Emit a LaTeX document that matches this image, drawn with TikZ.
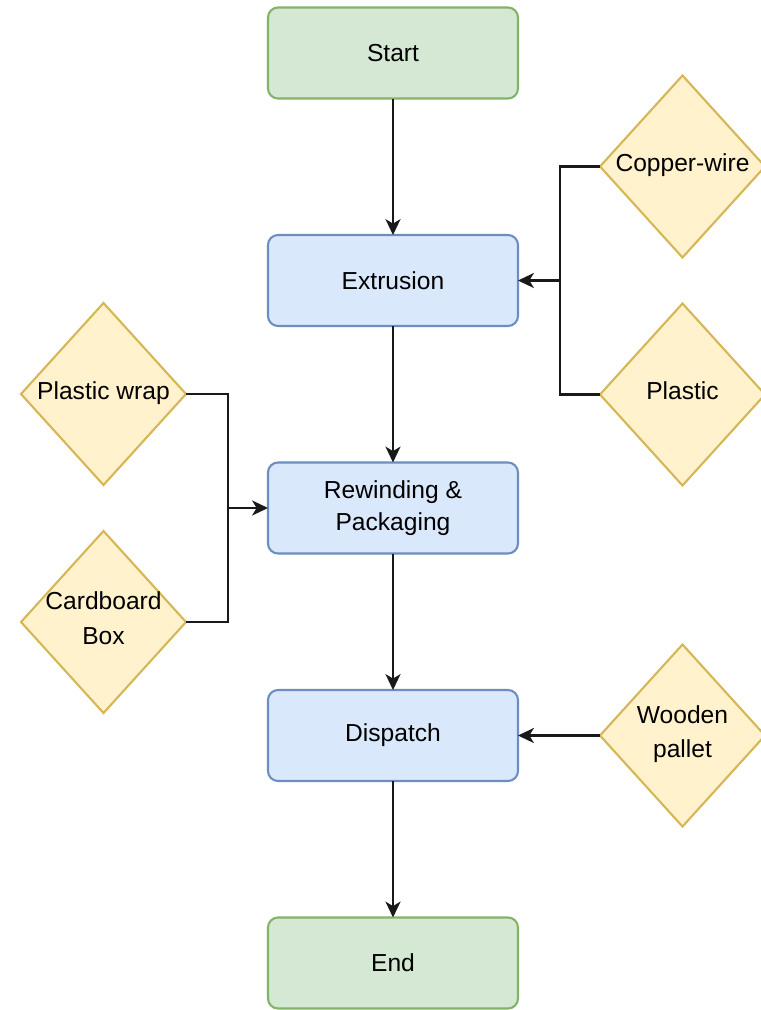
\documentclass[tikz,border=0pt]{standalone}
\usepackage{fontspec}
\setmainfont{Liberation Sans}
\usetikzlibrary{shapes.geometric, arrows.meta, positioning}
\definecolor{termfill}{HTML}{D5E8D4}
\definecolor{termline}{HTML}{82B366}
\definecolor{procfill}{HTML}{DAE8FC}
\definecolor{procline}{HTML}{6C8EBF}
\definecolor{supfill}{HTML}{FFF2CC}
\definecolor{supline}{HTML}{D6B656}
% text inside a diamond without widening it
\newcommand{\dtext}[1]{\smash{\raisebox{-0.09cm}{\makebox[0pt]{\begin{tabular}{@{}c@{}}#1\end{tabular}}}}}
\tikzset{
  termbox/.style={rectangle, rounded corners=0.2cm, draw=termline, fill=termfill, line width=1.2pt, outer sep=0pt, minimum width=5cm, minimum height=1.82cm, align=center, font=\fontsize{14}{18.5}\selectfont},
  procbox/.style={rectangle, rounded corners=0.2cm, draw=procline, fill=procfill, line width=1.2pt, outer sep=0pt, minimum width=5cm, minimum height=1.82cm, align=center, font=\fontsize{14}{18.5}\selectfont},
  supply/.style={diamond, draw=supline, fill=supfill, line width=1.2pt, outer sep=0pt, minimum width=3.3cm, minimum height=3.64cm, inner sep=0pt, font=\fontsize{14}{19.5}\selectfont},
  link/.style={line width=1.4pt, draw=black!90},
  flow/.style={link, -{Stealth[length=9pt, width=8.5pt, inset=2.5pt]}},
}
\begin{document}
\begin{tikzpicture}[node distance=2.73cm]
  \useasboundingbox (0,0) rectangle (15.2,-20.2);
  % main line
  \node[termbox] (start) at (7.86,-1.06) {Start};
  \node[procbox, below=of start] (extr) {Extrusion};
  \node[procbox, below=of extr] (rewind) {Rewinding \&\\Packaging};
  \node[procbox, below=of rewind] (disp) {Dispatch};
  \node[termbox, below=of disp] (end) {End};
  \draw[flow] (start) -- (extr);
  \draw[flow] (extr) -- (rewind);
  \draw[flow] (rewind) -- (disp);
  \draw[flow] (disp) -- (end);
  % materials
  \node[supply, right=1.64cm of extr, yshift=2.28cm] (copper) {\dtext{Copper-wire}};
  \node[supply, right=1.64cm of extr, yshift=-2.28cm] (plastic) {\dtext{Plastic}};
  \node[supply, left=1.64cm of rewind, yshift=2.28cm] (wrap) {\dtext{Plastic wrap}};
  \node[supply, left=1.64cm of rewind, yshift=-2.28cm] (box) {\dtext{Cardboard\\Box}};
  \node[supply, right=1.64cm of disp] (pallet) {\dtext{Wooden\\pallet}};
  % joins
  \coordinate[right=0.84cm of extr] (jextr);
  \coordinate[left=0.8cm of rewind] (jrew);
  \draw[link] (copper.west) -| (jextr);
  \draw[link] (plastic.west) -| (jextr);
  \draw[flow] (jextr) -- (extr);
  \draw[link] (wrap.east) -| (jrew);
  \draw[link] (box.east) -| (jrew);
  \draw[flow] (jrew) -- (rewind);
  \draw[flow] (pallet) -- (disp);
\end{tikzpicture}
\end{document}
